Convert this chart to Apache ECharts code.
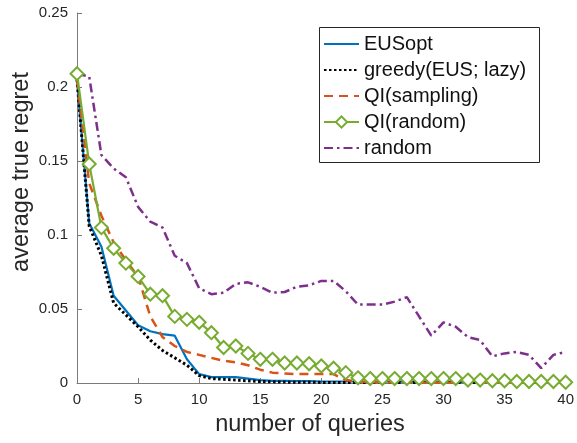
<!DOCTYPE html>
<html>
<head>
<meta charset="utf-8">
<script src="https://cdn.jsdelivr.net/npm/echarts@6/dist/echarts.min.js"></script>
<style>
  html, body { margin: 0; padding: 0; background: #fff; }
  #chart { width: 577px; height: 443px; }
</style>
</head>
<body>
<div id="chart"></div>
<script>
// Number of queries asked (x) and the average true regret after each query (y)
const queries = [0, 1, 2, 3, 4, 5, 6, 7, 8, 9, 10, 11, 12, 13, 14, 15, 16, 17, 18, 19, 20,
                 21, 22, 23, 24, 25, 26, 27, 28, 29, 30, 31, 32, 33, 34, 35, 36, 37, 38, 39, 40];

const eusOpt = [0.205, 0.108, 0.092, 0.059, 0.049, 0.039, 0.035, 0.033, 0.032, 0.016, 0.006,
                0.004, 0.004, 0.004, 0.003, 0.002, 0.0015, 0.0015, 0.0012, 0.0012, 0.001,
                0.001, 0.001, 0.001, 0.001, 0.001, 0.0009, 0.0009, 0.0009, 0.0008, 0.0008,
                0.0008, 0.0008, 0.0008, 0.0007, 0.0007, 0.0007, 0.0007, 0.0007, 0.0007, 0.0007];

const greedyLazy = [0.205, 0.106, 0.086, 0.054, 0.046, 0.038, 0.029, 0.022, 0.017, 0.012, 0.005,
                    0.003, 0.0025, 0.002, 0.0015, 0.001, 0.0008, 0.0006, 0.0005, 0.0005, 0.0004,
                    0.0004, 0.0003, 0.0003, 0.0003, 0.0003, 0.0003, 0.0003, 0.0003, 0.0003, 0.0003,
                    0.0003, 0.0003, 0.0003, 0.0003, 0.0003, 0.0003, 0.0003, 0.0003, 0.0003, 0.0003];

const qiSampling = [0.205, 0.135, 0.113, 0.095, 0.083, 0.072, 0.045, 0.031, 0.025, 0.021, 0.019,
                    0.017, 0.015, 0.014, 0.012, 0.009, 0.007, 0.0065, 0.006, 0.006, 0.006,
                    0.006, 0.002, 0.001, 0.0005, 0.0003, 0.0002, 0.0001, 0.0001, 0.0001, 0.0001,
                    0.0001, 0.0001, 0.0001, 0.0001, 0.0001, 0.0001, 0.0001, 0.0001, 0.0001, 0.0001];

const qiRandom = [0.209, 0.148, 0.105, 0.091, 0.081, 0.072, 0.060, 0.059, 0.045, 0.043, 0.041,
                  0.034, 0.024, 0.025, 0.020, 0.016, 0.016, 0.0135, 0.0135, 0.013, 0.0115,
                  0.010, 0.007, 0.0035, 0.003, 0.003, 0.003, 0.003, 0.003, 0.003, 0.003,
                  0.003, 0.002, 0.002, 0.0015, 0.0015, 0.001, 0.001, 0.001, 0.001, 0.0005];

const randomQ = [0.209, 0.207, 0.154, 0.145, 0.139, 0.119, 0.109, 0.105, 0.086, 0.081, 0.064,
                 0.060, 0.061, 0.067, 0.068, 0.065, 0.061, 0.0615, 0.065, 0.066, 0.069,
                 0.069, 0.062, 0.053, 0.053, 0.053, 0.055, 0.058, 0.045, 0.032, 0.041,
                 0.038, 0.031, 0.029, 0.018, 0.020, 0.021, 0.019, 0.010, 0.019, 0.021];

const seriesNames = ['EUSopt', 'greedy(EUS; lazy)', 'QI(sampling)', 'QI(random)', 'random'];
const yTickLabels = ['0', '0.05', '0.1', '0.15', '0.2', '0.25'];
const xTickLabels = ['0', '5', '10', '15', '20', '25', '30', '35', '40'];

const pairs = ys => queries.map((q, i) => [q, ys[i]]);

const FONT = '"Liberation Sans", Arial, Helvetica, sans-serif';
const TEXT = '#262626';
const AXIS = '#7a7a7a';
// line-only series: keep the legend marker invisible so only the line sample shows
const NO_MARK = { color: 'rgba(0,0,0,0)', borderColor: 'rgba(0,0,0,0)', borderWidth: 0, opacity: 0 };

const chart = echarts.init(document.getElementById('chart'), null, { renderer: 'canvas' });

chart.setOption({
  animation: false,
  backgroundColor: '#fff',
  textStyle: { fontFamily: FONT },
  grid: { left: 77, right: 10, top: 13, bottom: 60, containLabel: false },
  xAxis: {
    type: 'value',
    min: 0, max: 40, interval: 5,
    axisLine: { show: true, lineStyle: { color: AXIS, width: 1 } },
    axisTick: { show: true, inside: true, length: 5, lineStyle: { color: AXIS } },
    axisLabel: {
      color: TEXT, fontSize: 15, fontFamily: FONT, margin: 9,
      formatter: v => xTickLabels[Math.round(v / 5)]
    },
    splitLine: { show: false }
  },
  yAxis: {
    type: 'value',
    min: 0, max: 0.25, interval: 0.05,
    axisLine: { show: true, lineStyle: { color: AXIS, width: 1 } },
    axisTick: { show: true, inside: true, length: 5, lineStyle: { color: AXIS } },
    axisLabel: {
      color: TEXT, fontSize: 15, fontFamily: FONT, margin: 9,
      formatter: v => yTickLabels[Math.round(v / 0.05)]
    },
    splitLine: { show: false }
  },
  legend: {
    orient: 'vertical',
    left: 323, top: 34,
    padding: 0,
    z: 10,
    itemGap: 6,
    itemWidth: 35,
    itemHeight: 14,
    itemTextGap: 4,
    textStyle: { color: '#111', fontSize: 20, fontFamily: FONT, lineHeight: 20 },
    data: seriesNames
  },
  graphic: {
    elements: [
      {
        // legend frame, drawn above the curves and beneath the legend entries
        type: 'rect', z: 8,
        shape: { x: 319.5, y: 27.5, width: 220, height: 135 },
        style: { fill: '#fff', stroke: '#262626', lineWidth: 1 }
      },
      {
        type: 'text', x: 310, y: 425,
        style: { text: 'number of queries', fill: TEXT, font: '23.5px ' + FONT,
                 align: 'center', verticalAlign: 'middle' }
      },
      {
        type: 'text', x: 22, y: 172, rotation: Math.PI / 2,
        style: { text: 'average true regret', fill: TEXT, font: '23.5px ' + FONT,
                 align: 'center', verticalAlign: 'middle' }
      }
    ]
  },
  series: [
    {
      name: seriesNames[0], type: 'line', data: pairs(eusOpt),
      symbol: 'none',
      lineStyle: { color: '#0072BD', width: 2.2 },
      itemStyle: NO_MARK
    },
    {
      name: seriesNames[1], type: 'line', data: pairs(greedyLazy),
      symbol: 'none',
      lineStyle: { color: '#000', width: 3, type: [2.5, 2.5] },
      itemStyle: NO_MARK
    },
    {
      name: seriesNames[2], type: 'line', data: pairs(qiSampling),
      symbol: 'none',
      lineStyle: { color: '#D95319', width: 2.5, type: [9, 6] },
      itemStyle: NO_MARK
    },
    {
      name: seriesNames[3], type: 'line', data: pairs(qiRandom),
      symbol: 'diamond', symbolSize: 13, showSymbol: true,
      lineStyle: { color: '#77AC30', width: 2.2 },
      itemStyle: { color: '#fff', borderColor: '#77AC30', borderWidth: 2 }
    },
    {
      name: seriesNames[4], type: 'line', data: pairs(randomQ),
      symbol: 'none',
      lineStyle: { color: '#7E2F8E', width: 2.5, type: [9, 4, 2.5, 4] },
      itemStyle: NO_MARK
    }
  ]
});
</script>
</body>
</html>
